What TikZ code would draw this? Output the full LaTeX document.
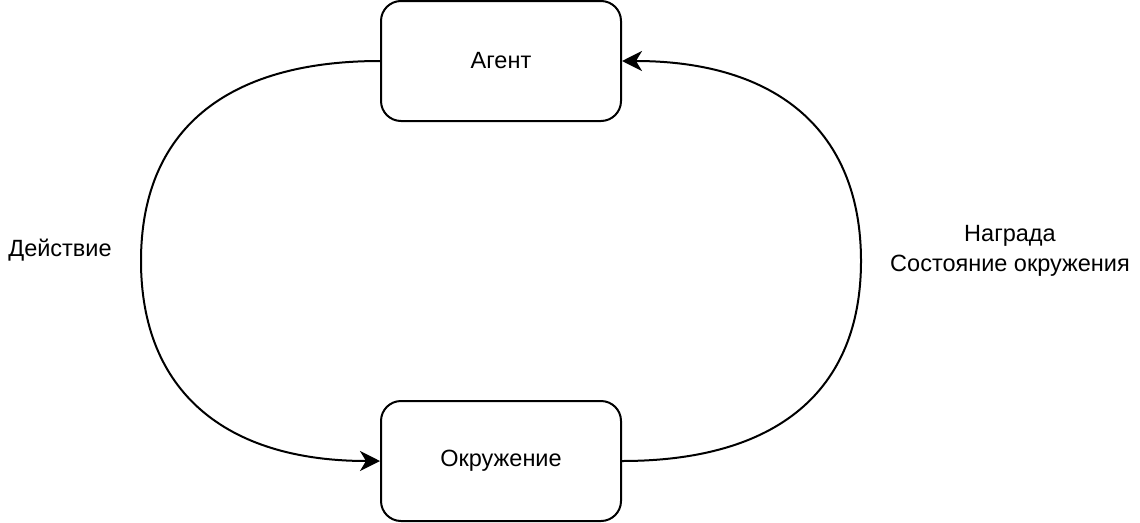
\documentclass[tikz,border=0pt]{standalone}
\usepackage{fontspec}
\setmainfont{Liberation Sans}
\usetikzlibrary{arrows.meta}
\begin{document}
\begin{tikzpicture}[x=1pt,y=-1pt,
  box/.style={draw, line width=2pt, rounded corners=20pt, minimum width=240pt, minimum height=120pt, inner sep=0pt, font=\fontsize{23.5}{29}\selectfont},
  lbl/.style={font=\fontsize{23.5}{30}\selectfont, align=center, inner sep=0pt},
  conn/.style={line width=2pt, -{Stealth[length=20pt,width=20pt,inset=6pt]}}]
\useasboundingbox (0,0) rectangle (1140,522);
\node[box] (agent) at (501,61) {Агент};
\node[box] (env) at (501,461) {Окружение};
\coordinate (L) at (141,261);
\coordinate (R) at (861,261);
\draw[conn] (agent.west) .. controls (225,61) and (141,131) .. (L)
  .. controls (141,391) and (225,461) .. (env.west);
\draw[conn] (env.east) .. controls (777,461) and (861,391) .. (R)
  .. controls (861,131) and (777,61) .. (agent.east);
\node[lbl] (act) at (60,250) {Действие};
\node[lbl] (rew) at (1010,251) {Награда\\Состояние окружения};
\end{tikzpicture}
\end{document}
